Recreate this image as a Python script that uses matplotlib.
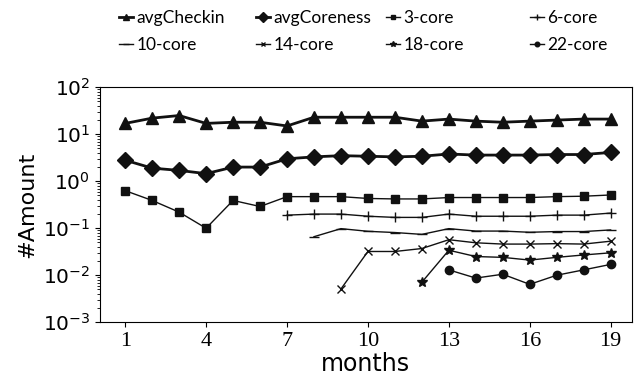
import matplotlib.pyplot as plt
import numpy as np

months = np.arange(1, 20)

avg_checkin = [17, 22, 25, 17, 18, 18, 15, 23, 23, 23, 23, 19, 21, 19, 18, 19, 20, 21, 21]
avg_coreness = [2.8, 1.9, 1.7, 1.45, 2.0, 2.0, 3.0, 3.3, 3.5, 3.4, 3.3, 3.4, 3.8, 3.6, 3.6, 3.6, 3.7, 3.7, 4.1]
core3 = [0.63, 0.39, 0.22, 0.10, 0.39, 0.29, 0.47, 0.47, 0.47, 0.43, 0.42, 0.42, 0.45, 0.45, 0.45, 0.45, 0.47, 0.48, 0.51]

# the higher cores only start later in the period
core6_months = np.arange(7, 20)
core6 = [0.19, 0.20, 0.20, 0.18, 0.17, 0.17, 0.20, 0.18, 0.18, 0.18, 0.19, 0.19, 0.21]
core10_months = np.arange(8, 20)
core10 = [0.066, 0.098, 0.086, 0.081, 0.074, 0.098, 0.087, 0.087, 0.082, 0.085, 0.085, 0.092]
core14_months = np.arange(9, 20)
core14 = [0.0051, 0.032, 0.032, 0.037, 0.057, 0.049, 0.046, 0.046, 0.047, 0.046, 0.053]
core18_months = np.arange(12, 20)
core18 = [0.0071, 0.034, 0.025, 0.024, 0.021, 0.024, 0.027, 0.030]
core22_months = np.arange(13, 20)
core22 = [0.013, 0.0087, 0.0105, 0.0064, 0.010, 0.013, 0.017]

fig = plt.figure(figsize=(6.4, 3.76), dpi=100)
ax = fig.add_axes([0.156, 0.143, 0.831, 0.625])

c = '#111111'
ax.plot(months, avg_checkin, color=c, lw=2, marker='^', ms=9, label='avgCheckin')
ax.plot(months, avg_coreness, color=c, lw=2, marker='D', ms=8.5, label='avgCoreness')
ax.plot(months, core3, color=c, lw=1, marker='s', ms=6, label='3-core')
ax.plot(core6_months, core6, color=c, lw=1, marker='+', ms=7, label='6-core')
ax.plot(core10_months, core10, color=c, lw=1, marker='_', ms=7, label='10-core')
ax.plot(core14_months, core14, color=c, lw=1, marker='x', ms=6, label='14-core')
ax.plot(core18_months, core18, color=c, lw=1, marker='*', ms=7, label='18-core')
ax.plot(core22_months, core22, color=c, lw=1, marker='o', ms=6, label='22-core')

ax.set_yscale('log')
ax.set_ylim(1e-3, 1e2)
ax.set_xlim(0.06, 19.78)
ax.set_xticks([1, 4, 7, 10, 13, 16, 19])
for lab in ax.get_xticklabels():
    lab.set_fontfamily('Liberation Serif')
    lab.set_fontsize(16)
ax.tick_params(axis='y', labelsize=14.5)
ax.set_xlabel('months', fontsize=17, labelpad=1)
ax.set_ylabel('#Amount', fontsize=16)

# legend: one small legend per column so the columns sit where they do in the reference
handles, labels = ax.get_legend_handles_labels()
col_x = [0.178, 0.392, 0.595, 0.82]
for k, x in enumerate(col_x):
    idx = [k, k + 4]
    fig.legend([handles[i] for i in idx], [labels[i] for i in idx],
               loc='upper left', bbox_to_anchor=(x, 0.986), frameon=False,
               prop={'family': 'Lato', 'size': 12.5}, handlelength=0.8,
               handletextpad=0.2, markerscale=0.55, labelspacing=0.62,
               borderpad=0.3, borderaxespad=0.0)

fig.savefig('out.png')
